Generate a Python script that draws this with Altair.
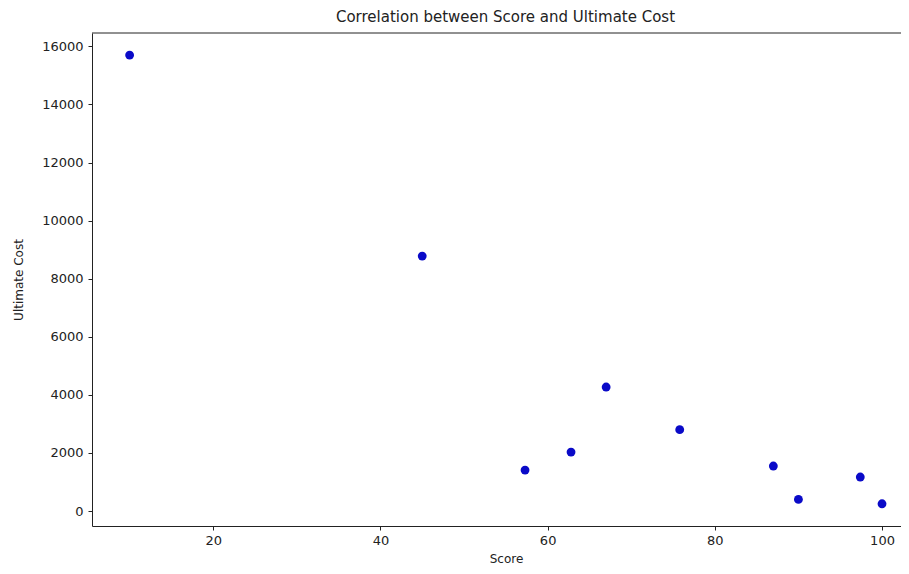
import altair as alt
import pandas as pd

# Data
scores = [10, 45, 57.3, 62.8, 67, 75.8, 87, 90, 97.4, 100]
costs = [15700, 8780, 1410, 2030, 4270, 2800, 1550, 400, 1170, 250]
x_ticks = [20, 40, 60, 80, 100]
y_ticks = [0, 2000, 4000, 6000, 8000, 10000, 12000, 14000, 16000]

df = pd.DataFrame({"Score": scores, "Ultimate Cost": costs})

FONT = "DejaVu Sans"
W, H = 809, 493

points = alt.Chart(df).mark_circle(size=78, color="#0a0ac8", opacity=1).encode(
    x=alt.X(
        "Score:Q",
        scale=alt.Scale(domain=[5.5, 102.27], nice=False, zero=False),
        axis=alt.Axis(
            values=x_ticks, format="d", grid=False, tickSize=4, labelPadding=4,
            titlePadding=6, titleX=414, labelFont=FONT, titleFont=FONT,
            labelFontSize=13, titleFontSize=12, titleFontWeight="normal",
            domainColor="#222", tickColor="#222", labelColor="#222", titleColor="#222",
        ),
    ),
    y=alt.Y(
        "Ultimate Cost:Q",
        scale=alt.Scale(domain=[-516, 16461], nice=False, zero=False),
        axis=alt.Axis(
            values=y_ticks, format="d", grid=False, tickSize=4, labelPadding=5,
            titlePadding=16, labelFont=FONT, titleFont=FONT,
            labelFontSize=13, titleFontSize=12, titleFontWeight="normal",
            domainColor="#222", tickColor="#222", labelColor="#222", titleColor="#222",
        ),
    ),
)

top_border = alt.Chart(pd.DataFrame({"a": [0]})).mark_rule(color="#222", strokeWidth=1).encode(
    x=alt.value(0), x2=alt.value(W), y=alt.value(0)
)

chart = alt.layer(points, top_border).properties(
    width=W,
    height=H,
    title=alt.TitleParams(
        "Correlation between Score and Ultimate Cost",
        font=FONT, fontSize=15, fontWeight="normal", color="#222",
        anchor="middle", dx=9, offset=8,
    ),
    autosize=alt.AutoSizeParams(type="none"),
    padding={"left": 84, "top": 25, "right": 0, "bottom": 40},
).configure_view(stroke=None)

chart.save("out.html", embed_options={"renderer": "svg", "actions": False})
